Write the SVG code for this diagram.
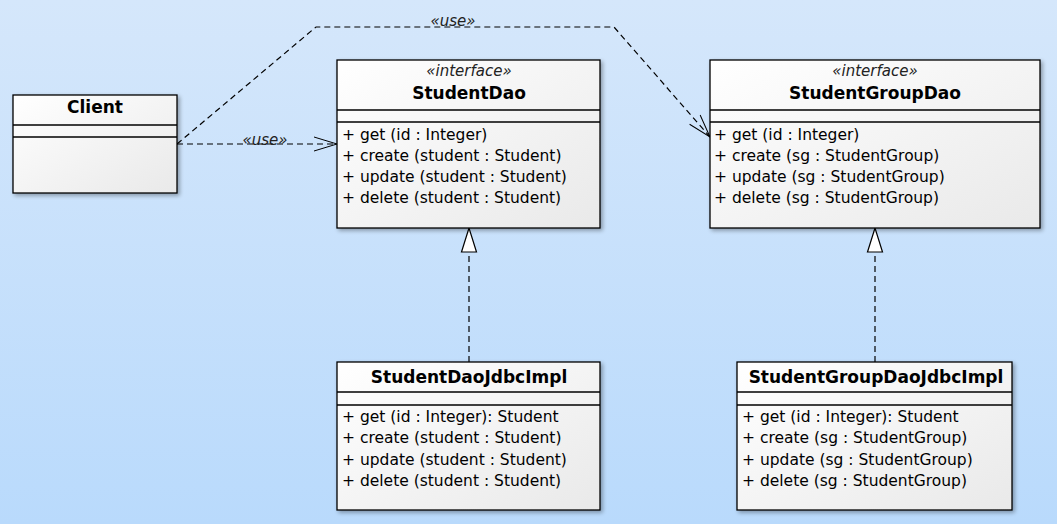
<svg xmlns="http://www.w3.org/2000/svg" width="1057" height="524" viewBox="0 0 1057 524">
<defs>
<linearGradient id="bg" x1="0" y1="0" x2="0" y2="1"><stop offset="0" stop-color="#d5e7fb"/><stop offset="1" stop-color="#b9dafc"/></linearGradient>
<linearGradient id="box" x1="0" y1="0" x2="1" y2="1"><stop offset="0" stop-color="#ffffff"/><stop offset="1" stop-color="#e9e9e9"/></linearGradient>
<filter id="sh" x="-10%" y="-10%" width="120%" height="120%"><feGaussianBlur in="SourceAlpha" stdDeviation="2"/><feOffset dx="2" dy="2"/><feComponentTransfer><feFuncA type="linear" slope="0.35"/></feComponentTransfer><feMerge><feMergeNode/><feMergeNode in="SourceGraphic"/></feMerge></filter>
<marker id="open" markerWidth="26" markerHeight="16" refX="24" refY="8" orient="auto" markerUnits="userSpaceOnUse"><path d="M1,1 L24,8 L1,15" fill="none" stroke="#000" stroke-width="1"/></marker>
</defs>
<style>
.b{fill:url(#box);stroke:#000;stroke-width:1.3;filter:url(#sh)}
.l{stroke:#000;stroke-width:1.3}
.t{font-family:"DejaVu Sans",Verdana,sans-serif;font-size:15.5px;fill:#000}
.n{font-family:"DejaVu Sans",Verdana,sans-serif;font-size:17px;font-weight:bold;fill:#000;text-anchor:middle}
.s{font-family:"DejaVu Sans",Verdana,sans-serif;font-size:15px;font-style:italic;fill:#222;text-anchor:middle}
.c{fill:none;stroke:#000;stroke-width:1.2;stroke-dasharray:6,4}
</style>
<rect width="1057" height="524" fill="url(#bg)"/>
<g id="connectors">
<path class="c" d="M177,144 L337,144" marker-end="url(#open)"/>
<text class="s" x="265" y="145">«use»</text>
<path class="c" d="M177,144 L316,27 L614,27 L710,137" marker-end="url(#open)"/>
<text class="s" x="453" y="26">«use»</text>
<path class="c" d="M469,362 L469,252"/>
<path d="M469,228 L461.5,252 L476.5,252 Z" fill="#fff" stroke="#000" stroke-width="1.2"/>
<path class="c" d="M875,362 L875,252"/>
<path d="M875,228 L867.5,252 L882.5,252 Z" fill="#fff" stroke="#000" stroke-width="1.2"/>
</g>
<g id="Client">
<rect class="b" x="13" y="95" width="164" height="98"/>
<line class="l" x1="13" y1="125" x2="177" y2="125"/>
<line class="l" x1="13" y1="137" x2="177" y2="137"/>
<text class="n" x="95" y="113">Client</text>
</g>
<g id="StudentDao">
<rect class="b" x="337" y="60" width="263" height="168"/>
<line class="l" x1="337" y1="110" x2="600" y2="110"/>
<line class="l" x1="337" y1="122" x2="600" y2="122"/>
<text class="s" x="469" y="76">«interface»</text>
<text class="n" x="469" y="99">StudentDao</text>
<text class="t" x="342" y="140">+ get (id : Integer)</text>
<text class="t" x="342" y="161">+ create (student : Student)</text>
<text class="t" x="342" y="182">+ update (student : Student)</text>
<text class="t" x="342" y="203">+ delete (student : Student)</text>
</g>
<g id="StudentGroupDao">
<rect class="b" x="710" y="60" width="330" height="168"/>
<line class="l" x1="710" y1="110" x2="1040" y2="110"/>
<line class="l" x1="710" y1="122" x2="1040" y2="122"/>
<text class="s" x="875" y="76">«interface»</text>
<text class="n" x="875" y="99">StudentGroupDao</text>
<text class="t" x="714" y="140">+ get (id : Integer)</text>
<text class="t" x="714" y="161">+ create (sg : StudentGroup)</text>
<text class="t" x="714" y="182">+ update (sg : StudentGroup)</text>
<text class="t" x="714" y="203">+ delete (sg : StudentGroup)</text>
</g>
<g id="StudentDaoJdbcImpl">
<rect class="b" x="337" y="362" width="263" height="148"/>
<line class="l" x1="337" y1="392" x2="600" y2="392"/>
<line class="l" x1="337" y1="405" x2="600" y2="405"/>
<text class="n" x="469" y="383">StudentDaoJdbcImpl</text>
<text class="t" x="342" y="422">+ get (id : Integer): Student</text>
<text class="t" x="342" y="443">+ create (student : Student)</text>
<text class="t" x="342" y="465">+ update (student : Student)</text>
<text class="t" x="342" y="486">+ delete (student : Student)</text>
</g>
<g id="StudentGroupDaoJdbcImpl">
<rect class="b" x="737" y="362" width="275" height="148"/>
<line class="l" x1="737" y1="392" x2="1012" y2="392"/>
<line class="l" x1="737" y1="405" x2="1012" y2="405"/>
<text class="n" x="876" y="383">StudentGroupDaoJdbcImpl</text>
<text class="t" x="742" y="422">+ get (id : Integer): Student</text>
<text class="t" x="742" y="443">+ create (sg : StudentGroup)</text>
<text class="t" x="742" y="465">+ update (sg : StudentGroup)</text>
<text class="t" x="742" y="486">+ delete (sg : StudentGroup)</text>
</g>
</svg>
